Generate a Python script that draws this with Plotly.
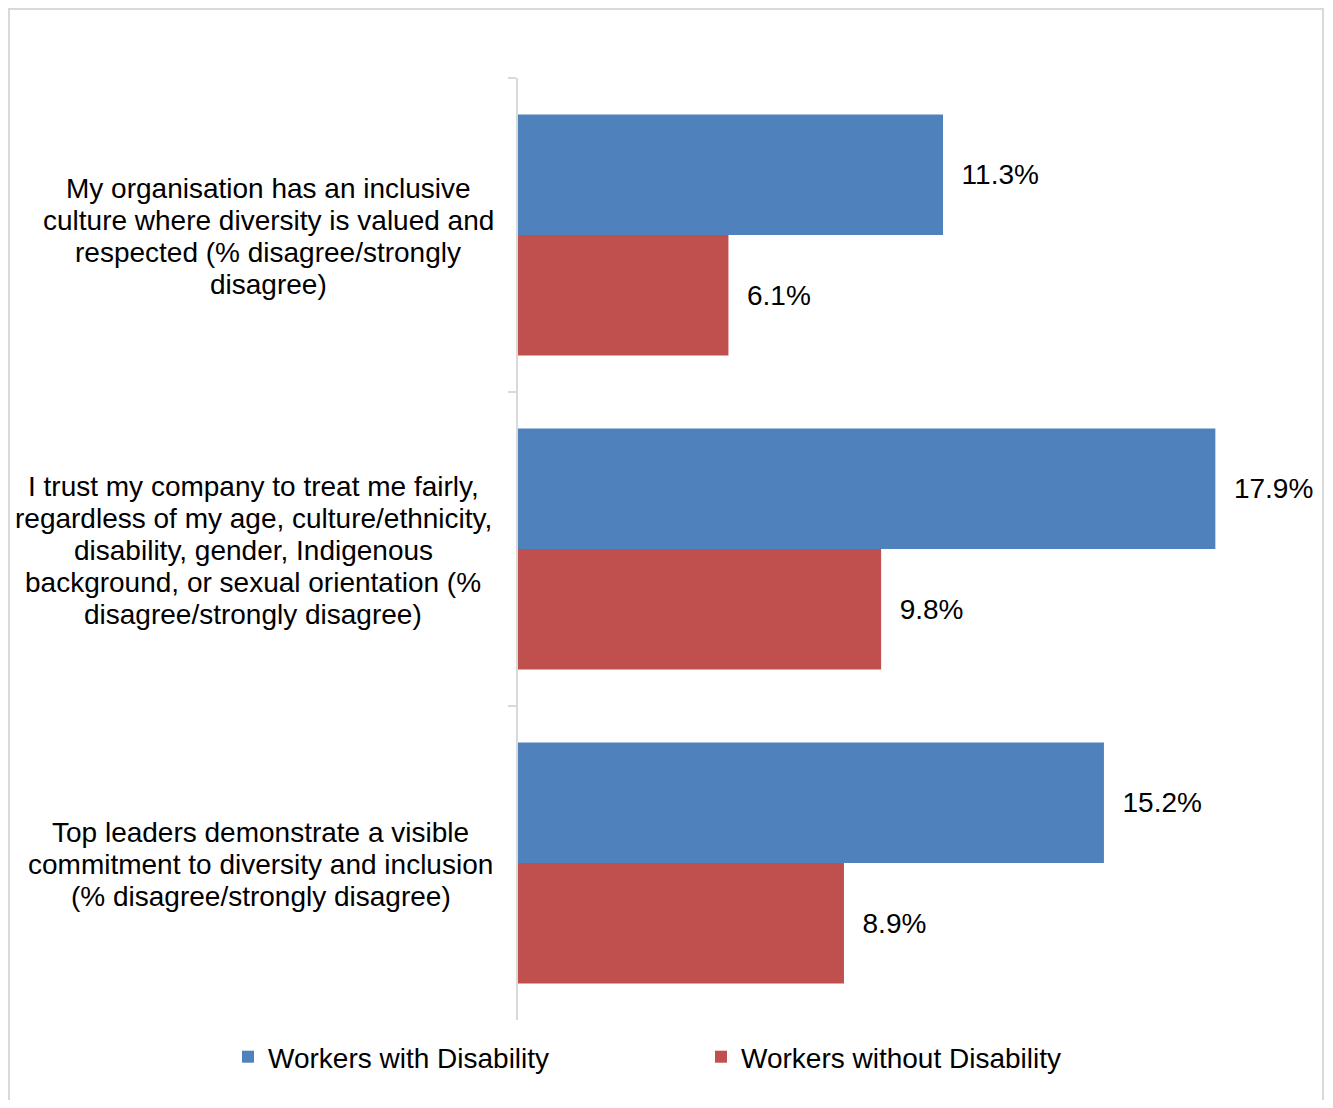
import plotly.graph_objects as go

category_lines = [
    ["My organisation has an inclusive",
     "culture where diversity is valued and",
     "respected (% disagree/strongly",
     "disagree)"],
    ["I trust my company to treat me fairly,",
     "regardless of my age, culture/ethnicity,",
     "disability, gender, Indigenous",
     "background, or sexual orientation (%",
     "disagree/strongly disagree)"],
    ["Top leaders demonstrate a visible",
     "commitment to diversity and inclusion",
     "(% disagree/strongly disagree)"],
]
cat_ids = ["c1", "c2", "c3"]
with_disability = [11.3, 17.9, 15.2]
without_disability = [6.1, 9.8, 8.9]
series_names = ["Workers with Disability", "Workers without Disability"]

BLUE = "#4F81BD"
RED = "#C0504D"
GRID = "#D9D9D9"
FONT = "Liberation Sans, Arial, sans-serif"
FS = 28

# page body has an 8px margin; figure sized to fit the window without scrollbars
OFF = 8
W, H = 1317, 1092
L, T = 518 - OFF, 78 - OFF
R = W - (1302 - OFF)
B = H - (1020 - OFF)
pw = W - L - R
ph = H - T - B

def px_x(sx):  # screen x -> paper x
    return (sx - 518) / pw

def px_y(sy):  # screen y -> paper y
    return (1020 - sy) / ph

fig = go.Figure()
for name, vals, col in [(series_names[0], with_disability, BLUE),
                        (series_names[1], without_disability, RED)]:
    fig.add_trace(go.Bar(
        y=cat_ids, x=vals, name=name, orientation="h",
        marker=dict(color=col, line=dict(width=0)),
        text=[f"\u00a0\u00a0{v:.1f}%" for v in vals],
        textposition="outside", textfont=dict(family=FONT, size=FS, color="#000000"),
        cliponaxis=False, constraintext="none", hoverinfo="skip",
    ))

label_centers = [268, 253, 260.5]
LINE_H = 32
for cid, lines, cx in zip(cat_ids, category_lines, label_centers):
    n = len(lines)
    for i, line in enumerate(lines):
        fig.add_annotation(
            x=px_x(cx), xref="paper", y=cid, yref="y", text=line, showarrow=False,
            xanchor="center", yanchor="middle",
            yshift=-((i - (n - 1) / 2) * LINE_H + 1),
            font=dict(family=FONT, size=FS, color="#000000"),
        )

# outer chart border (left, top, right sides visible)
x0, x1 = px_x(9), px_x(OFF + W - 2)
y_top, y_bot = px_y(9), px_y(OFF + H + 20)
fig.add_shape(type="path", xref="paper", yref="paper",
              path=f"M {x0} {y_bot} L {x0} {y_top} L {x1} {y_top} L {x1} {y_bot}",
              line=dict(color=GRID, width=2), layer="below")

fig.update_layout(
    width=W, height=H,
    margin=dict(l=L, r=R, t=T, b=B, pad=0),
    paper_bgcolor="white", plot_bgcolor="white",
    barmode="group", bargap=0.232, bargroupgap=0,
    font=dict(family=FONT, size=FS, color="#000000"),
    xaxis=dict(range=[1, 20], showticklabels=False, showgrid=False, zeroline=False,
               showline=False, ticks=""),
    yaxis=dict(type="category", range=[2.5, -0.5], categoryorder="array", categoryarray=cat_ids,
               showticklabels=False, showgrid=False, zeroline=False,
               showline=True, linecolor=GRID, linewidth=2,
               ticks="outside", tickson="boundaries", ticklen=8, tickcolor=GRID, tickwidth=2),
    legend=dict(orientation="h", x=px_x(228), xanchor="left", y=px_y(1057), yanchor="middle",
                font=dict(family=FONT, size=FS, color="#000000"),
                entrywidth=428, entrywidthmode="pixels", itemwidth=30,
                bgcolor="rgba(0,0,0,0)"),
    showlegend=True,
)

fig.write_html("out.html")
